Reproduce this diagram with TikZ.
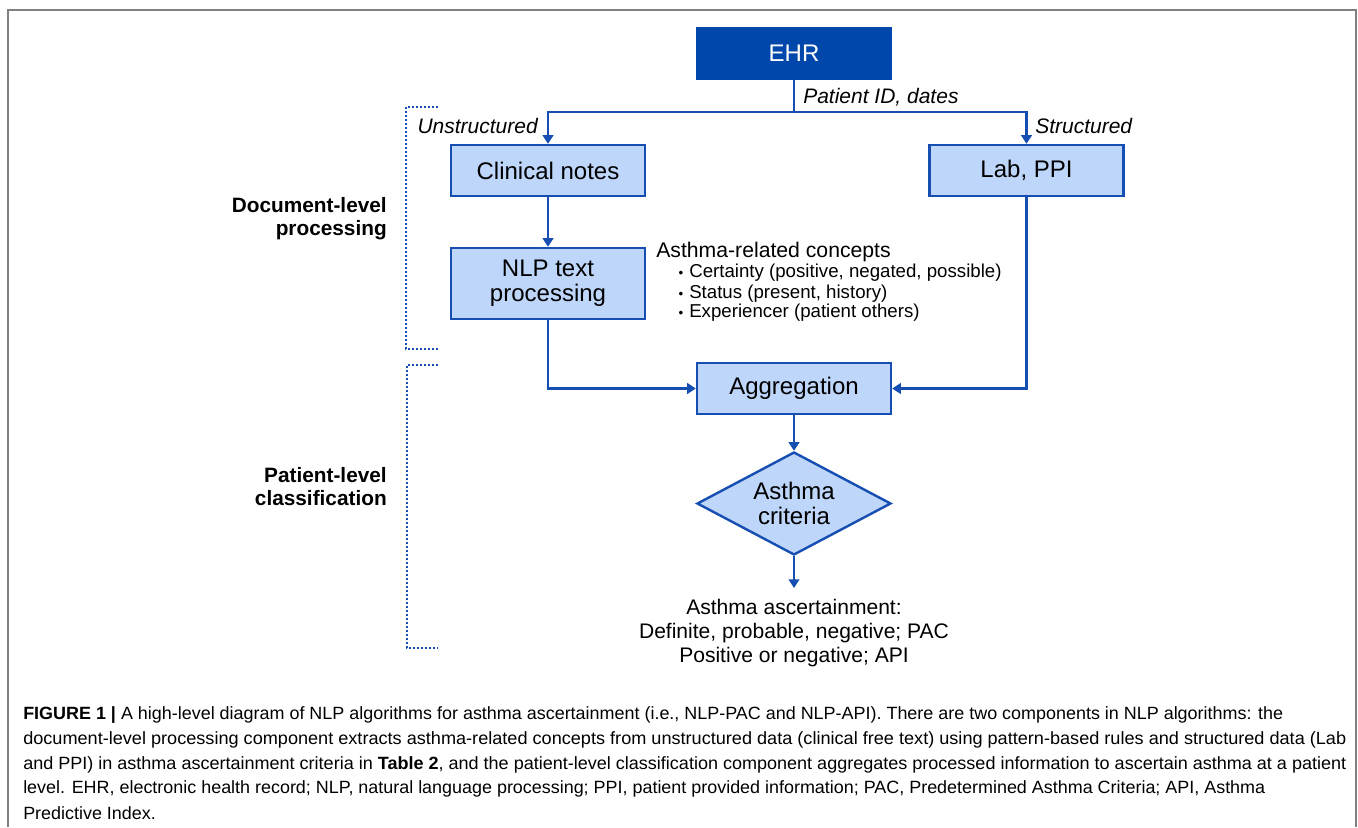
\documentclass[tikz,border=0pt]{standalone}
\usepackage{fontspec}
\setmainfont{Liberation Sans}
\newfontfamily\capfont{Liberation Sans}
\usetikzlibrary{arrows.meta,shapes.geometric}
\definecolor{ehrblue}{RGB}{0,71,171}
\definecolor{lineblue}{RGB}{22,78,178}
\definecolor{boxfill}{RGB}{189,214,249}
\definecolor{framegray}{RGB}{128,128,128}
\newsavebox\capbox
\newcommand\capline[2]{\sbox\capbox{#2}\pgfmathsetmacro\capsx{(#1)/\the\wd\capbox}\xdef\lastsx{\capsx}\scalebox{\capsx}[1]{\usebox\capbox}}
\begin{document}
\begin{tikzpicture}[x=0.75pt,y=-0.75pt,
  boxfont/.style={font=\fontsize{18}{18.75}\selectfont},
  box/.style={draw=lineblue, line width=1.8pt, fill=boxfill, inner sep=0pt, align=center,
    minimum width=145.5pt, minimum height=38.25pt, boxfont},
  ehrbox/.style={fill=ehrblue, text=white, inner sep=0pt, minimum width=147pt, minimum height=39.75pt, boxfont},
  dia/.style={shape=diamond, draw=lineblue, line width=1.8pt, fill=boxfill, inner sep=0pt, align=center,
    minimum width=145.5pt, minimum height=77.25pt, shape aspect=1.88, boxfont},
  conn/.style={draw=lineblue, line width=1.6pt},
  arr/.style={conn, -{Triangle[length=6.5pt,width=8pt]}},
  itlabel/.style={inner sep=0pt, font=\fontsize{15.75}{18}\selectfont\itshape},
  sidelabel/.style={inner sep=0pt, align=right, font=\fontsize{15.6}{17.25}\selectfont\bfseries},
  concept/.style={inner sep=0pt, anchor=west},
  bulletmark/.style={inner sep=0pt, font=\fontsize{10}{12}\selectfont},
  outtext/.style={inner sep=0pt, align=center, font=\fontsize{15.8}{18}\selectfont},
  bracket/.style={draw=lineblue, line width=1.5pt, dash pattern=on 1.5pt off 1.5pt},
  capstyle/.style={inner sep=0pt, anchor=west, font=\capfont\fontsize{13.3}{18}\selectfont}
]
\useasboundingbox (0,0) rectangle (1358,827);
\fill[white] (0,0) rectangle (1358,827);
% frame
\draw[framegray, line width=1.5pt] (8,827) -- (8,10) -- (1356,10) -- (1356,827);

% nodes
\node[ehrbox] (ehr) at (794,53.5) {EHR};
\node[box] (cn) at (548,170.5) {Clinical notes};
\node[box] (lab) at (1026.5,170.5) {Lab, PPI};
\node[box, minimum height=53.25pt] (nlp) at (548,283.5) {NLP text\\processing};
\node[box] (agg) at (794,388.5) {Aggregation};
\node[dia] (dia) at (794,503.5) {Asthma\\criteria};
\node[outtext] (res) at (794,633) {Asthma ascertainment:\\Definite, probable, negative; PAC\\Positive or negative; API};

\coordinate (j) at (794,112);
\coordinate (o) at (794,588);

% connectors
\draw[conn] (ehr) -- (j);
\draw[arr] (j) -| (cn);
\draw[arr] (j) -| (lab);
\draw[arr] (cn) -- (nlp);
\draw[arr] (nlp) |- (agg);
\draw[arr] (lab) |- (agg);
\draw[arr] (agg) -- (dia);
\draw[arr] (dia) -- (o);

% edge labels
\node[itlabel, anchor=west] (pid) at (803,97) {Patient ID, dates};
\node[itlabel, anchor=east] (uns) at (538,126) {Unstructured};
\node[itlabel, anchor=west] (str) at (1035,126) {Structured};

% concepts
\node[concept, font=\fontsize{15.9}{18}\selectfont] (ac) at (656,252) {Asthma-related concepts};
\node[bulletmark] (b1) at (681,274) {•};
\node[concept, font=\fontsize{14}{16}\selectfont] (t1) at (689,273) {Certainty (positive, negated, possible)};
\node[bulletmark] (b2) at (681,295) {•};
\node[concept, font=\fontsize{14}{16}\selectfont] (t2) at (689,294) {Status (present, history)};
\node[bulletmark] (b3) at (681,314) {•};
\node[concept, font=\fontsize{14}{16}\selectfont] (t3) at (689,313) {Experiencer (patient others)};

% brackets
\draw[bracket] (438,107) -- (406,107) -- (406,349) -- (438,349);
\draw[bracket] (438,365) -- (407,365) -- (407,648) -- (438,648);
\node[sidelabel, anchor=east] (doc) at (387,218.5) {Document-level\\processing};
\node[sidelabel, anchor=east] (pat) at (387,486.5) {Patient-level\\classification};

% caption
\node[capstyle] (c1) at (23,715) {\capline{1260*0.75}{\textbf{FIGURE 1 |} A high-level diagram of NLP algorithms for asthma ascertainment (i.e., NLP-PAC and NLP-API). There are two components in NLP algorithms: the}};
\node[capstyle] (c2) at (23,740) {\capline{1323*0.75}{document-level processing component extracts asthma-related concepts from unstructured data (clinical free text) using pattern-based rules and structured data (Lab}};
\node[capstyle] (c3) at (23,765) {\capline{1323*0.75}{and PPI) in asthma ascertainment criteria in \textbf{Table 2}, and the patient-level classification component aggregates processed information to ascertain asthma at a patient}};
\node[capstyle] (c4) at (23,789) {\capline{1242*0.75}{level. EHR, electronic health record; NLP, natural language processing; PPI, patient provided information; PAC, Predetermined Asthma Criteria; API, Asthma}};
\node[capstyle] (c5) at (23,813) {\scalebox{\lastsx}[1]{Predictive Index.}};
\end{tikzpicture}
\end{document}
